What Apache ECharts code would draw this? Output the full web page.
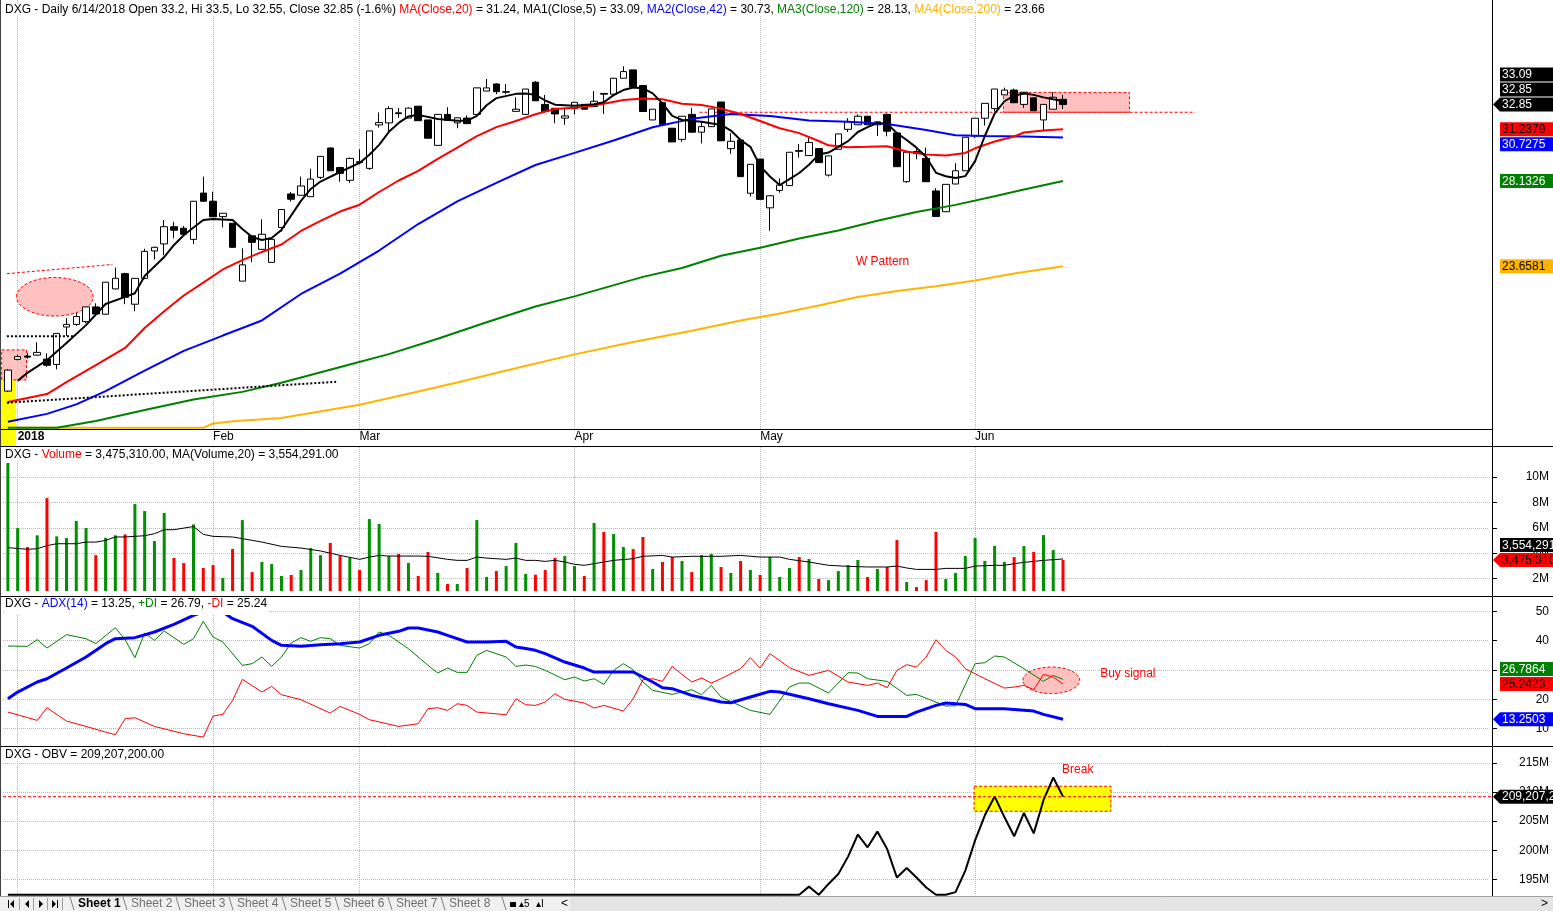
<!DOCTYPE html>
<html><head><meta charset="utf-8">
<script src="https://cdn.jsdelivr.net/npm/echarts@6/dist/echarts.min.js"></script>
<style>html,body{margin:0;padding:0;background:#fff;overflow:hidden}#c{width:1553px;height:911px}</style>
</head><body><div id="c"></div>
<script>
const FONT = '"Liberation Sans", Arial, sans-serif';
const F12 = '12px "Liberation Sans", Arial, sans-serif';
const N_CAT = 152;
const monthIdx = [1, 21, 36, 58, 77, 99];
const monthLabels = ['2018', 'Feb', 'Mar', 'Apr', 'May', 'Jun'];

// candles: [open, close, low, high]
const candles = [
[18.37,19.17,18.34,19.2],[19.59,19.7,19.55,19.78],[19.72,19.68,19.62,19.85],[19.76,19.87,19.74,20.28],[19.6,19.36,19.3,19.83],
[19.39,20.65,19.2,20.65],[20.92,21.03,20.55,21.3],[21.03,21.37,20.97,21.53],[21.15,21.79,21.08,21.79],[21.79,21.48,21.43,21.95],
[21.47,22.91,21.45,22.91],[22.6,23.09,22.58,23.6],[23.31,22.22,21.91,23.35],[21.91,23.09,21.6,23.1],[23.09,24.39,23.05,24.52],
[24.41,24.59,23.99,24.62],[24.76,25.64,24.2,25.99],[25.64,25.46,25.04,25.9],[25.56,25.25,25.2,25.68],[24.99,27.0,24.75,27.0],
[27.45,27.0,27.0,28.38],[27.0,26.16,26.16,27.53],[26.17,26.35,25.6,26.35],[25.82,24.59,24.59,25.82],[22.96,23.73,22.96,24.54],
[25.17,24.84,23.86,25.17],[24.49,25.25,24.49,26.03],[23.85,24.99,23.85,24.99],[25.6,26.55,25.39,26.55],[27.4,27.11,26.98,27.51],
[27.33,27.85,27.33,28.38],[27.25,28.24,27.25,28.84],[28.34,29.57,28.24,29.57],[30.08,28.72,28.72,30.12],[28.91,28.57,28.09,28.95],
[28.17,29.45,28.03,29.5],[29.25,29.2,29.1,30.0],[28.86,31.14,28.76,31.14],[31.52,31.67,31.35,32.33],[31.65,32.58,31.1,32.74],
[32.3,32.25,31.98,32.62],[31.96,32.61,31.96,32.65],[32.74,31.79,31.79,32.74],[31.84,30.68,30.68,31.84],[30.24,32.2,30.24,32.2],
[32.2,31.82,31.82,32.67],[31.65,31.98,31.31,31.98],[31.96,31.6,31.6,32.14],[32.2,33.98,32.03,33.98],[33.76,33.98,33.76,34.6],
[34.25,33.72,33.55,34.3],[33.68,33.72,33.55,34.25],[32.4,32.54,32.4,33.34],[32.2,33.9,32.2,33.9],[34.37,33.1,33.1,34.45],
[32.86,32.39,32.39,33.5],[32.6,32.23,31.63,32.6],[31.96,32.1,31.53,32.63],[32.58,33.0,32.2,33.0],[32.86,32.54,32.54,32.86],
[32.72,33.07,32.72,33.76],[33.6,33.55,32.23,33.62],[33.55,34.65,33.55,34.65],[34.65,35.12,34.65,35.5],[35.24,34.05,34.05,35.24],
[34.14,32.39,32.39,34.14],[31.84,32.54,31.84,32.54],[32.97,31.53,31.53,32.97],[31.31,30.45,30.45,31.31],[30.61,32.08,30.45,32.08],
[32.2,31.06,31.03,32.63],[31.06,31.41,30.36,31.72],[31.41,32.56,31.41,32.56],[33.02,30.52,30.52,33.02],[30.04,30.49,29.73,31.0],
[30.57,28.38,28.38,30.57],[27.44,29.1,27.26,29.1],[29.41,27.1,27.1,29.41],[26.64,27.3,25.43,27.3],[27.6,27.9,27.47,28.28],
[27.87,29.82,27.87,29.82],[29.92,29.88,29.5,30.33],[29.62,30.42,29.62,30.81],[30.04,29.2,29.2,30.04],[28.47,29.6,28.38,29.6],
[30.0,30.95,30.0,30.95],[31.24,31.72,31.07,31.95],[31.53,32.08,31.53,32.2],[32.08,31.53,31.53,32.1],[31.53,31.72,30.82,31.72],
[32.2,31.12,30.8,32.27],[31.01,28.96,28.96,31.01],[28.09,29.82,28.03,29.82],[29.87,29.74,29.4,30.05],[29.45,28.09,28.09,30.1],
[27.57,26.18,26.18,27.72],[26.43,27.94,26.43,27.94],[27.96,28.72,27.96,29.17],[28.72,30.74,28.72,30.74],[30.82,31.95,30.69,31.95],
[31.95,32.93,31.48,32.93],[32.58,33.9,32.39,33.9],[33.5,33.83,33.5,33.99],[33.83,32.97,32.97,33.93],[32.86,33.68,32.63,33.7],
[33.3,32.44,32.44,33.3],[31.84,32.86,31.12,32.86],[32.54,33.34,32.54,33.68],[33.2,32.85,32.55,33.5]
];

// moving averages: [barIndex, value]
const ma5 = [[1,18.76],[2,19.06],[4,19.56],[6,20.25],[8,21.0],[10,21.92],[12,22.24],[13,22.4],[14,23.2],[16,24.11],[17,24.71],[18,25.2],[19,25.6],[20,25.99],[21,26.04],[23,25.99],[24,25.52],[25,25.11],[26,24.96],[27,25.06],[28,25.47],[30,27.02],[31,27.68],[32,28.1],[34,28.65],[36,29.18],[37,29.67],[38,30.27],[39,31.08],[40,31.65],[41,32.07],[42,32.17],[44,31.9],[46,31.78],[47,31.78],[48,32.1],[49,32.8],[50,33.28],[52,33.57],[53,33.6],[54,33.5],[55,33.12],[56,32.84],[58,32.77],[60,32.87],[61,33.0],[62,33.48],[63,33.83],[64,34.0],[65,33.95],[66,33.6],[67,32.93],[68,32.1],[69,31.84],[71,31.72],[73,31.52],[74,31.16],[75,30.57],[76,30.15],[77,28.99],[78,28.39],[79,27.9],[80,28.24],[81,28.59],[82,29.07],[83,29.68],[84,29.8],[85,30.15],[86,30.5],[87,31.07],[88,31.38],[89,31.65],[90,31.6],[91,31.0],[92,30.57],[93,30.1],[94,29.53],[95,28.6],[96,28.4],[97,28.3],[98,28.41],[99,29.29],[100,30.82],[101,32.25],[102,33.07],[103,33.45],[104,33.6],[105,33.5],[106,33.33],[107,33.2],[108,33.09]];
const ma20 = [[0,17.97],[4,18.26],[6,18.71],[9,19.36],[12,20.05],[14,20.88],[16,21.6],[18,22.3],[20,22.89],[22,23.51],[24,23.96],[26,24.36],[28,24.73],[30,25.42],[32,25.94],[34,26.44],[36,26.81],[38,27.51],[40,28.16],[42,28.71],[44,29.42],[46,30.1],[48,30.81],[50,31.38],[52,31.77],[54,32.21],[56,32.56],[59,32.69],[61,32.9],[63,33.15],[65,33.25],[67,33.2],[69,32.9],[71,32.82],[73,32.58],[75,32.23],[77,31.77],[79,31.31],[81,31.0],[83,30.51],[84,30.24],[86,30.13],[88,30.15],[90,30.18],[92,29.87],[94,29.69],[96,29.62],[98,29.78],[99,30.06],[101,30.48],[103,30.79],[104,31.04],[106,31.16],[108,31.24]];
const ma42 = [[0,17.26],[4,17.54],[7,17.88],[10,18.37],[14,19.15],[18,19.93],[22,20.56],[26,21.2],[30,22.37],[34,23.31],[38,24.43],[42,25.78],[46,26.99],[50,28.02],[54,29.06],[58,29.78],[62,30.54],[66,31.37],[70,31.91],[74,32.23],[78,32.1],[82,31.81],[86,31.73],[90,31.58],[94,31.2],[97,30.86],[100,30.82],[104,30.79],[108,30.73]];
const ma120 = [[0,17.05],[5,17.05],[9,17.29],[14,17.68],[19,18.06],[24,18.34],[28,18.68],[35,19.39],[39,19.8],[44,20.43],[49,21.12],[54,21.81],[58,22.26],[65,23.16],[69,23.58],[73,24.17],[77,24.57],[81,25.03],[85,25.44],[89,25.95],[93,26.42],[97,26.8],[101,27.27],[104,27.65],[108,28.13]];
const ma200 = [[0,17.05],[20,17.05],[21,17.2],[23,17.28],[28,17.39],[36,17.87],[41,18.27],[46,18.69],[51,19.15],[58,19.79],[64,20.29],[70,20.76],[75,21.2],[79,21.5],[83,21.85],[87,22.23],[91,22.5],[95,22.72],[99,22.99],[103,23.32],[108,23.66]];

// volume in millions
const volumeM = [11.10,5.98,4.49,5.41,8.34,5.33,5.20,6.54,5.98,3.85,5.22,5.41,5.49,7.87,7.32,4.96,7.17,3.63,3.23,6.27,
2.84,3.07,2.05,4.33,6.61,2.52,3.31,3.15,2.21,2.29,2.68,4.41,3.85,4.81,3.78,3.63,2.68,6.69,6.30,3.78,
3.94,3.23,2.21,4.10,2.45,1.58,1.58,2.84,6.61,2.13,2.60,2.99,4.81,2.37,2.31,2.68,3.63,3.78,2.99,2.21,
6.38,5.67,5.51,4.49,4.33,5.28,2.76,3.31,3.70,3.39,2.52,3.85,3.94,2.92,2.45,3.39,2.68,2.29,3.70,2.13,
2.84,3.70,3.55,1.97,1.89,2.60,3.07,3.47,2.13,2.76,2.92,5.04,1.74,1.34,1.89,5.67,1.97,2.45,3.78,5.20,
3.39,4.57,3.31,3.70,4.57,4.10,5.43,4.25,3.475];
const volMA20 = [[0,4.44],[2,4.31],[3,4.36],[4,4.6],[5,4.75],[7,4.75],[8,4.88],[9,4.88],[10,5.01],[11,5.28],[12,5.28],[13,5.33],[14,5.38],[15,5.54],[16,5.85],[17,5.85],[18,5.98],[19,6.1],[20,5.49],[21,5.33],[23,5.28],[24,5.15],[26,4.88],[28,4.54],[30,4.41],[32,4.18],[34,3.83],[36,3.52],[37,3.7],[38,3.83],[39,3.78],[42,3.78],[43,3.76],[45,3.52],[46,3.44],[47,3.44],[48,3.7],[49,3.62],[51,3.52],[52,3.62],[53,3.44],[54,3.44],[55,3.36],[56,3.44],[57,3.31],[58,3.13],[59,3.05],[60,3.18],[61,3.31],[62,3.44],[64,3.57],[65,3.76],[67,3.83],[68,3.7],[70,3.76],[73,3.76],[75,3.83],[77,3.7],[79,3.7],[80,3.52],[82,3.31],[84,3.05],[86,2.97],[88,2.92],[90,2.92],[91,2.99],[92,2.84],[93,2.73],[95,2.73],[96,2.81],[98,2.81],[99,2.99],[101,3.05],[102,3.05],[103,3.18],[104,3.28],[106,3.44],[108,3.55]];

// ADX(14), +DI, -DI
const adx = [[0,20.2],[1,22.49],[3,25.9],[4,27.03],[6,30.67],[8,34.42],[10,38.97],[11,40.67],[13,41.01],[15,42.94],[17,45.56],[19,48.63],[20,49.76],[21,50.3],[22,49.76],[23,47.49],[25,44.88],[27,40.1],[28,38.4],[30,38.06],[32,38.63],[34,38.97],[36,39.53],[38,41.81],[40,43.17],[41,44.31],[42,44.31],[44,42.94],[45,41.81],[47,39.53],[49,39.5],[51,39.76],[52,37.83],[53,37.3],[54,36.7],[55,35.56],[57,32.72],[59,30.67],[60,29.31],[64,29.31],[66,25.9],[67,23.97],[68,23.63],[70,21.35],[73,19.08],[74,18.85],[76,20.79],[78,22.72],[79,22.49],[82,20.2],[84,18.51],[87,16.24],[89,14.19],[92,14.19],[93,15.67],[95,17.94],[96,18.74],[98,18.28],[99,16.81],[102,16.81],[105,16.01],[106,14.88],[108,13.25]];
const plusDI = [[0,38.17],[2,38.06],[3,40.33],[4,37.49],[6,42.04],[8,40.67],[9,38.97],[11,44.42],[12,40.33],[13,34.19],[14,42.6],[15,40.1],[16,43.28],[18,38.74],[19,40.67],[20,46.58],[21,41.24],[22,39.53],[24,31.58],[25,32.15],[26,34.42],[27,31.24],[28,34.42],[29,39.19],[30,41.01],[31,39.76],[32,41.01],[33,40.67],[34,38.4],[36,37.49],[37,38.97],[38,42.94],[39,41.81],[41,37.26],[43,31.58],[44,28.97],[45,30.67],[46,29.19],[47,29.19],[48,34.99],[49,36.69],[51,34.42],[52,31.24],[53,31.7],[54,31.2],[55,29.88],[57,26.69],[58,27.6],[59,26.24],[60,27.03],[61,25.1],[62,29.88],[63,32.15],[64,30.1],[65,25.9],[66,23.06],[68,21.69],[70,23.28],[71,21.58],[72,24.76],[73,20.79],[76,16.24],[78,14.88],[80,24.2],[81,25.56],[82,25.56],[84,22.15],[86,29.08],[87,28.97],[88,27.03],[90,26.13],[92,21.35],[93,21.69],[96,17.72],[97,17.83],[99,32.15],[100,32.49],[101,34.76],[102,34.42],[104,30.45],[106,26.13],[107,28.17],[108,26.79]];
const minusDI = [[0,15.67],[3,12.83],[4,17.15],[6,12.6],[8,10.78],[10,8.85],[11,7.94],[12,13.4],[13,13.74],[14,12.26],[15,10.78],[18,8.28],[20,7.15],[21,14.31],[22,14.88],[23,19.65],[24,26.81],[26,22.49],[27,24.42],[28,21.58],[30,19.88],[33,15.33],[34,17.6],[36,14.88],[37,13.06],[40,10.78],[42,11.69],[43,16.81],[44,17.15],[45,16.24],[46,18.51],[47,17.94],[48,15.67],[51,14.76],[52,20.2],[53,18.17],[54,17.94],[55,19.08],[56,21.92],[57,19.99],[59,18.74],[60,17.03],[61,17.94],[63,16.01],[64,20.2],[65,26.69],[66,27.03],[67,26.13],[68,31.24],[69,28.51],[70,25.9],[71,27.26],[72,25.56],[73,27.03],[75,30.45],[76,34.19],[77,30.67],[78,35.56],[80,30.79],[82,28.17],[84,29.88],[86,25.9],[88,24.76],[89,25.56],[90,23.97],[91,29.88],[92,31.81],[93,31.01],[94,34.42],[95,40.33],[96,36.69],[97,34.42],[98,30.45],[100,27.03],[102,23.85],[103,24.2],[104,24.76],[105,23.28],[106,28.51],[107,27.6],[108,25.24]];

// OBV in millions (flat part sits at the bottom of the pane)
const obvM = [[0,192.35],[81,192.35],[82,193.74],[83,192.35],[84,194.2],[85,195.9],[86,198.9],[87,202.7],[88,200.5],[89,203.2],[90,200.2],[91,195.3],[92,196.95],[93,195.3],[94,193.6],[95,192.35],[96,192.35],[97,192.8],[98,196.5],[99,201.7],[100,206.0],[101,209.25],[102,205.7],[103,202.4],[104,206.4],[105,202.9],[106,208.6],[107,212.5],[108,209.21]];

// axis ranges and tick labels
const PRICE_MIN = 17.01, PRICE_MAX = 40.61;
const VOL_MIN = 1.03, VOL_MAX = 12.36, volTicks = [2, 4, 6, 8, 10];
const ADX_MIN = 4.45, ADX_MAX = 54.87, adxTicks = [10, 20, 30, 40, 50];
const OBV_MIN = 192.3, OBV_MAX = 217.75, obvTicks = [195, 200, 205, 210, 215];

// last values shown in the right tags
const priceTagVals = [33.09, 32.85, 32.85, 31.2379, 30.7275, 28.1326, 23.6581];
const priceTagText = ['33.09', '32.85', '32.85', '31.2379', '30.7275', '28.1326', '23.6581'];
const volTagVals = [3.554291, 3.47531];
const volTagText = ['3,554,291', '3,475,310'];
const adxTagVals = [26.7864, 25.2423, 13.2503];
const adxTagText = ['26.7864', '25.2423', '13.2503'];
const obvTagVal = 209.2072, obvTagText = '209,207,200';

// annotations in data units
const annoPriceBox = [101.9, 114.8, 32.34, 33.67];
const annoPriceLine = [70.8, 121.5, 32.34];
const annoLeftEllipse = [0.88, 8.73, 21.39, 23.13];
const annoLeftBox = [-0.64, 1.91, 18.79, 19.97];
const annoYellowLeft = [-0.82, 0.82, 18.98];
const annoDotH = [-0.1, 6.7, 20.53];
const annoDotTrend = [-0.1, 17.94, 33.6, 18.72];
const annoRedTrend = [-0.1, 23.31, 10.7, 23.75];
const annoWText = [86.8, 23.86];
const annoAdxEllipse = [103.9, 109.7, 21.96, 31.02];
const annoBuyText = [111.8, 28.74];
const annoObvBox = [98.9, 112.9, 206.7, 211.0];
const annoBreakText = [107.9, 213.8];

const GREEN = '#009000', RED = '#ff0000', BLUE = '#0000ff', ORANGE = '#ffb400';
const categories = [];
for (let i = 0; i < N_CAT; i++) categories.push(String(i));

const isMonth = (i) => monthIdx.indexOf(i) >= 0;
function xa(k) {
  const o = {
    type: 'category', gridIndex: k, data: categories, boundaryGap: true,
    axisLine: { show: false }, axisTick: { show: false },
    axisLabel: { show: false },
    splitLine: { show: true, alignWithLabel: true, interval: (i) => isMonth(i), lineStyle: { color: '#b9b9b9', type: 'dotted', width: 1 } }
  };
  if (k === 0) {
    o.axisLabel = {
      show: true, interval: (i) => isMonth(i), align: 'left', margin: 2,
      fontSize: 12, fontFamily: FONT, color: '#000',
      formatter: (v, i) => { const j = monthIdx.indexOf(i); if (j < 0) return ''; return j === 0 ? '{b|' + monthLabels[j] + '}' : monthLabels[j]; },
      rich: { b: { fontWeight: 'bold', fontSize: 12, fontFamily: FONT, color: '#000' } }
    };
  }
  return o;
}
function ya(k, min, max, ticks, fmt) {
  return {
    type: 'value', gridIndex: k, min, max, position: 'right', offset: 4,
    axisLine: { show: false },
    axisTick: { show: true, customValues: ticks, length: 5, lineStyle: { color: '#000' } },
    axisLabel: { show: true, customValues: ticks, formatter: fmt, align: 'right', margin: 57, fontSize: 12, fontFamily: FONT, color: '#000' },
    splitLine: { show: true, lineStyle: { color: '#b9b9b9', type: 'dotted', width: 1 } }
  };
}
function ln(data, color, width, k, z) {
  return { type: 'line', xAxisIndex: k, yAxisIndex: k, data, symbol: 'none', showSymbol: false,
    lineStyle: { color, width }, itemStyle: { color }, z: z || 3, silent: true };
}

const option = {
  animation: false,
  backgroundColor: '#fff',
  grid: [
    { left: 3, top: 0, width: 1485, height: 429 },
    { left: 3, top: 447, width: 1485, height: 144 },
    { left: 3, top: 597, width: 1485, height: 148 },
    { left: 3, top: 747, width: 1485, height: 148 }
  ],
  xAxis: [xa(0), xa(1), xa(2), xa(3)],
  yAxis: [
    { type: 'log', gridIndex: 0, min: PRICE_MIN, max: PRICE_MAX, position: 'right', offset: 4,
      axisLine: { show: false }, axisTick: { show: false }, axisLabel: { show: false }, splitLine: { show: false } },
    ya(1, VOL_MIN, VOL_MAX, volTicks, (v) => v + 'M'),
    ya(2, ADX_MIN, ADX_MAX, adxTicks, (v) => String(v)),
    ya(3, OBV_MIN, OBV_MAX, obvTicks, (v) => v + 'M')
  ],
  series: [
    { type: 'candlestick', xAxisIndex: 0, yAxisIndex: 0, data: candles, barWidth: 7, silent: true, z: 2,
      itemStyle: { color: '#fff', color0: '#000', borderColor: '#000', borderColor0: '#000', borderWidth: 1 } },
    ln(ma200, ORANGE, 2, 0), ln(ma120, '#008000', 2, 0), ln(ma42, BLUE, 2, 0), ln(ma20, RED, 2, 0), ln(ma5, '#000', 2, 0, 4),
    { type: 'bar', xAxisIndex: 1, yAxisIndex: 1, barWidth: 3, silent: true,
      data: volumeM.map((v, i) => ({ value: v, itemStyle: { color: candles[i][1] >= candles[i][0] ? GREEN : RED } })) },
    ln(volMA20, '#000', 1, 1),
    ln(plusDI, '#008000', 1, 2), ln(minusDI, RED, 1, 2), ln(adx, BLUE, 3, 2, 4),
    ln(obvM, '#000', 2, 3)
  ]
};

const chart = echarts.init(document.getElementById('c'));
chart.setOption(option);

const px0 = chart.convertToPixel({ xAxisIndex: 0 }, 0);
const band = chart.convertToPixel({ xAxisIndex: 0 }, 1) - px0;
const X = (i) => px0 + i * band;
const Y = (ax, v) => chart.convertToPixel({ yAxisIndex: ax }, v);

const g = [];
function line(x1, y1, x2, y2, stroke, w, dash, z) {
  g.push({ type: 'line', silent: true, z: z || 50, shape: { x1, y1, x2, y2 }, style: { stroke, lineWidth: w || 1, lineDash: dash || null } });
}
function text(x, y, t, fill, opts) {
  const o = opts || {};
  g.push({ type: 'text', silent: true, z: o.z || 60, x, y,
    style: { text: t, fill, font: o.font || F12, align: o.align || 'left', textAlign: o.align || 'left',
      verticalAlign: 'middle', textVerticalAlign: 'middle', rich: o.rich, backgroundColor: o.bg, padding: o.pad } });
}

// annotations (drawn under series)
(function () {
  const a = annoYellowLeft;
  g.push({ type: 'rect', silent: true, z: 1, shape: { x: X(a[0]), y: Y(0, a[2]), width: X(a[1]) - X(a[0]), height: 446 - Y(0, a[2]) }, style: { fill: '#ffff00' } });
  const b = annoLeftBox;
  g.push({ type: 'rect', silent: true, z: 1, shape: { x: X(b[0]), y: Y(0, b[3]), width: X(b[1]) - X(b[0]), height: Y(0, b[2]) - Y(0, b[3]) }, style: { fill: '#ffc0c0', stroke: RED, lineWidth: 1, lineDash: [3, 2] } });
  const e = annoLeftEllipse;
  g.push({ type: 'ellipse', silent: true, z: 1, shape: { cx: (X(e[0]) + X(e[1])) / 2, cy: (Y(0, e[2]) + Y(0, e[3])) / 2, rx: (X(e[1]) - X(e[0])) / 2, ry: (Y(0, e[2]) - Y(0, e[3])) / 2 }, style: { fill: '#ffc0c0', stroke: RED, lineWidth: 1, lineDash: [3, 2] } });
  const r = annoPriceBox;
  g.push({ type: 'rect', silent: true, z: 1, shape: { x: X(r[0]), y: Y(0, r[3]), width: X(r[1]) - X(r[0]), height: Y(0, r[2]) - Y(0, r[3]) }, style: { fill: '#ffc0c0', stroke: RED, lineWidth: 1, lineDash: [3, 2] } });
  const l = annoPriceLine;
  line(X(l[0]), Y(0, l[2]), X(l[1]), Y(0, l[2]), RED, 1, [3, 2], 1);
  const d = annoDotH;
  line(X(d[0]), Y(0, d[2]), X(d[1]), Y(0, d[2]), '#000', 2, [2, 2], 5);
  const t = annoDotTrend;
  line(X(t[0]), Y(0, t[1]), X(t[2]), Y(0, t[3]), '#000', 2, [2, 2], 5);
  const rt = annoRedTrend;
  line(X(rt[0]), Y(0, rt[1]), X(rt[2]), Y(0, rt[3]), RED, 1, [3, 2], 5);
  text(X(annoWText[0]), Y(0, annoWText[1]), 'W Pattern', RED, { z: 5 });
  const ae = annoAdxEllipse;
  g.push({ type: 'ellipse', silent: true, z: 1, shape: { cx: (X(ae[0]) + X(ae[1])) / 2, cy: (Y(2, ae[2]) + Y(2, ae[3])) / 2, rx: (X(ae[1]) - X(ae[0])) / 2, ry: (Y(2, ae[2]) - Y(2, ae[3])) / 2 }, style: { fill: '#ffc0c0', stroke: RED, lineWidth: 1, lineDash: [3, 2] } });
  text(X(annoBuyText[0]), Y(2, annoBuyText[1]), 'Buy signal', RED, { z: 5 });
  const ob = annoObvBox;
  g.push({ type: 'rect', silent: true, z: 1, shape: { x: X(ob[0]), y: Y(3, ob[3]), width: X(ob[1]) - X(ob[0]), height: Y(3, ob[2]) - Y(3, ob[3]) }, style: { fill: '#ffff00', stroke: RED, lineWidth: 1, lineDash: [3, 2] } });
  line(3, Y(3, obvTagVal), 1492, Y(3, obvTagVal), RED, 1, [3, 2], 5);
  text(X(annoBreakText[0]), Y(3, annoBreakText[1]), 'Break', RED, { z: 5 });
})();

// frame lines
line(0, 429.5, 1492, 429.5, '#000', 1);
line(0, 446.5, 1553, 446.5, '#000', 1);
line(0, 596.5, 1553, 596.5, '#000', 1);
line(0, 746.5, 1553, 746.5, '#000', 1);
line(1492.5, 0, 1492.5, 896, '#000', 1);
line(0.5, 0, 0.5, 896, '#404040', 1);

// headers
text(5, 10, 'DXG - Daily 6/14/2018 Open 33.2, Hi 33.5, Lo 32.55, Close 32.85 (-1.6%) {r|MA(Close,20)} = 31.24, MA1(Close,5) = 33.09, {b|MA2(Close,42)} = 30.73, {g|MA3(Close,120)} = 28.13, {o|MA4(Close,200)} = 23.66', '#000',
  { rich: { r: { fill: RED, font: F12 }, b: { fill: BLUE, font: F12 }, g: { fill: '#008000', font: F12 }, o: { fill: ORANGE, font: F12 } }, bg: '#fff', z: 70 });
text(5, 455, 'DXG - {r|Volume} = 3,475,310.00, MA(Volume,20) = 3,554,291.00', '#000', { rich: { r: { fill: RED, font: F12 } }, bg: '#fff', z: 70 });
text(5, 606, 'DXG - {b|ADX(14)} = 13.25, {g|+DI} = 26.79, {r|-DI} = 25.24', '#000',
  { rich: { b: { fill: BLUE, font: F12 }, g: { fill: '#008000', font: F12 }, r: { fill: RED, font: F12 } }, bg: '#fff', pad: [1, 2, 5, 0], z: 70 });
text(5, 755, 'DXG - OBV = 209,207,200.00', '#000', { bg: '#fff', z: 70 });

// value tags on the right
const TAG_H = 15;
function placeTags(ys, anchor) {
  const out = ys.slice();
  for (let i = anchor - 1; i >= 0; i--) out[i] = Math.min(out[i], out[i + 1] - TAG_H);
  for (let i = anchor + 1; i < out.length; i++) out[i] = Math.max(out[i], out[i - 1] + TAG_H);
  return out;
}
function tag(y, t, bg, fg, arrow) {
  const h = 7;
  if (arrow) {
    g.push({ type: 'polygon', silent: true, z: 80, shape: { points: [[1493, y], [1500, y - h], [1553, y - h], [1553, y + h], [1500, y + h]] }, style: { fill: bg } });
  } else {
    g.push({ type: 'rect', silent: true, z: 80, shape: { x: 1500, y: y - h, width: 53, height: 2 * h }, style: { fill: bg } });
  }
  text(1502, y + 0.5, t, fg, { z: 81 });
}
(function () {
  const pc = [['#000', '#fff'], ['#000', '#fff'], ['#000', '#fff'], [RED, '#000'], [BLUE, '#fff'], ['#008000', '#fff'], [ORANGE, '#000']];
  const py = placeTags(priceTagVals.map((v) => Y(0, v)), 2);
  py.forEach((y, i) => tag(y, priceTagText[i], pc[i][0], pc[i][1], i === 2));
  const vy = placeTags(volTagVals.map((v) => Y(1, v)), 1);
  tag(vy[0], volTagText[0], '#000', '#fff', false);
  tag(vy[1], volTagText[1], RED, '#000', true);
  const ay = placeTags(adxTagVals.map((v) => Y(2, v)), 2);
  tag(ay[0], adxTagText[0], '#008000', '#fff', false);
  tag(ay[1], adxTagText[1], RED, '#000', false);
  tag(ay[2], adxTagText[2], BLUE, '#fff', true);
  tag(Y(3, obvTagVal), obvTagText, '#000', '#fff', true);
})();

// sheet tab strip
const sheetNames = ['Sheet 1', 'Sheet 2', 'Sheet 3', 'Sheet 4', 'Sheet 5', 'Sheet 6', 'Sheet 7', 'Sheet 8'];
g.push({ type: 'rect', silent: true, z: 90, shape: { x: 0, y: 896, width: 1553, height: 15 }, style: { fill: '#f0f0f0' } });
g.push({ type: 'rect', silent: true, z: 91, shape: { x: 570, y: 897, width: 983, height: 14 }, style: { fill: '#e4e4e4' } });
line(0, 896.5, 1553, 896.5, '#a0a0a0', 1, null, 92);
(function () {
  const cy = 904;
  const tri = (x, dir) => g.push({ type: 'polygon', silent: true, z: 93, shape: { points: dir < 0 ? [[x, cy], [x + 4, cy - 4], [x + 4, cy + 4]] : [[x + 4, cy], [x, cy - 4], [x, cy + 4]] }, style: { fill: '#000' } });
  line(8.5, cy - 4, 8.5, cy + 4, '#000', 1, null, 93); tri(10, -1);
  tri(25, -1); tri(39, 1);
  tri(52, 1); line(57.5, cy - 4, 57.5, cy + 4, '#000', 1, null, 93);
  [19.5, 33.5, 47.5, 62.5].forEach((x) => line(x, 898, x, 910, '#a0a0a0', 1, null, 93));
  sheetNames.forEach((s, k) => {
    const tx = 78 + k * 53;
    line(tx - 8, 897, tx - 4, 910, '#808080', 1, null, 93);
    text(tx, cy, s, k === 0 ? '#000' : '#707070', { z: 94, font: (k === 0 ? 'bold ' : '') + '12px "Liberation Sans", Arial, sans-serif' });
  });
  line(502, 897, 506, 910, '#808080', 1, null, 93);
  g.push({ type: 'rect', silent: true, z: 93, shape: { x: 510, y: 902, width: 6, height: 5 }, style: { fill: '#000' } });
  text(519, cy, '▴5', '#000', { z: 94, font: '10px "Liberation Sans", Arial' });
  text(536, cy, '▴I', '#000', { z: 94, font: '10px "Liberation Sans", Arial' });
  text(561, cy, '<', '#000', { z: 94 });
  text(1541, cy, '>', '#000', { z: 94 });
})();

chart.setOption({ graphic: { elements: g } });
</script>
</body></html>
